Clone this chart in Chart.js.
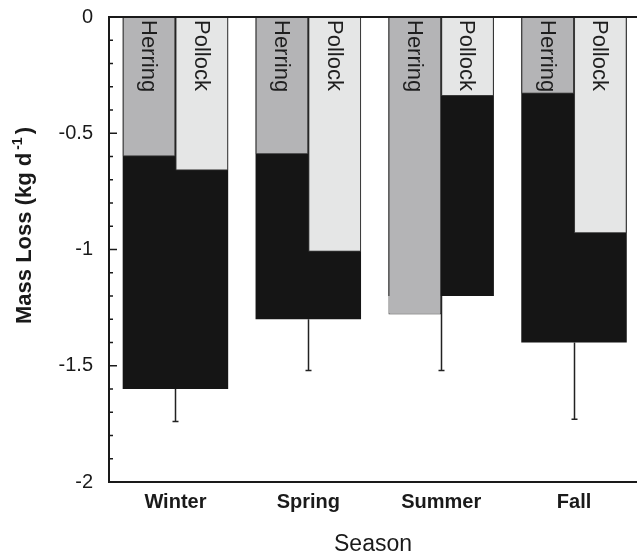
<!DOCTYPE html>
<html>
<head>
<meta charset="utf-8">
<script src="https://cdn.jsdelivr.net/npm/chart.js@4/dist/chart.umd.min.js"></script>
<style>
  html, body { margin: 0; padding: 0; background: #fff; }
  #wrap { width: 637px; height: 553px; }
</style>
</head>
<body>
<div id="wrap"><canvas id="massChart" width="637" height="553"></canvas></div>
<script>
const seasons = ['Winter', 'Spring', 'Summer', 'Fall'];
const herring = [-0.6, -0.59, -1.28, -0.33];
const pollock = [-0.66, -1.01, -0.34, -0.93];
const total = [-1.6, -1.3, -1.2, -1.4];
const totalErr = [0.14, 0.22, 0.32, 0.33];
const yTicks = [0, -0.5, -1, -1.5, -2];

const FONT = '"Liberation Sans", Arial, Helvetica, sans-serif';
const INK = '#1a1a1a';
Chart.defaults.font.family = FONT;
Chart.defaults.color = INK;

const toPoints = arr => arr.map((v, i) => ({ x: i, y: v }));

// error bars, bar names, axis frame, minor ticks and axis titles
const framePlugin = {
  id: 'frame',
  afterDatasetsDraw(chart) {
    const { ctx, chartArea, scales: { x, y } } = chart;
    ctx.save();
    ctx.strokeStyle = '#222';
    ctx.lineWidth = 1.5;
    total.forEach((t, i) => {
      const px = Math.round(x.getPixelForValue(i)) + 0.5;
      const y0 = y.getPixelForValue(t);
      const y1 = y.getPixelForValue(t - totalErr[i]);
      ctx.beginPath();
      ctx.moveTo(px, y0);
      ctx.lineTo(px, y1);
      ctx.moveTo(px - 3, y1);
      ctx.lineTo(px + 3, y1);
      ctx.stroke();
    });

    ctx.fillStyle = '#1e1e1e';
    ctx.font = '22px ' + FONT;
    ctx.textAlign = 'left';
    ctx.textBaseline = 'middle';
    [0, 1].forEach(di => {
      const name = chart.data.datasets[di].label;
      chart.getDatasetMeta(di).data.forEach(bar => {
        ctx.save();
        ctx.translate(bar.x - 1, chartArea.top + 3);
        ctx.rotate(Math.PI / 2);
        ctx.fillText(name, 0, 0);
        ctx.restore();
      });
    });
    ctx.restore();
  },
  afterDraw(chart) {
    const { ctx, chartArea: a, scales: { y } } = chart;
    ctx.save();
    ctx.strokeStyle = INK;
    ctx.lineWidth = 2;
    ctx.beginPath();
    ctx.moveTo(chart.width, a.top);
    ctx.lineTo(a.left, a.top);
    ctx.lineTo(a.left, a.bottom);
    ctx.lineTo(chart.width, a.bottom);
    ctx.stroke();

    ctx.lineWidth = 1.5;
    for (let k = 0; k <= 20; k++) {
      const py = y.getPixelForValue(-k / 10);
      const len = k % 5 === 0 ? 8 : 4;
      ctx.beginPath();
      ctx.moveTo(a.left, py);
      ctx.lineTo(a.left + len, py);
      ctx.stroke();
    }

    // y title with superscript
    ctx.fillStyle = INK;
    ctx.textBaseline = 'alphabetic';
    ctx.textAlign = 'left';
    const main = 'Mass Loss (kg d', sup = '-1', close = ')';
    ctx.font = 'bold 22px ' + FONT;
    const w1 = ctx.measureText(main).width, w3 = ctx.measureText(close).width;
    ctx.font = 'bold 14px ' + FONT;
    const w2 = ctx.measureText(sup).width;
    const tw = w1 + 3 + w2 + 3 + w3;
    ctx.translate(31, (a.top + a.bottom) / 2 - 24);
    ctx.rotate(-Math.PI / 2);
    let cx = -tw / 2;
    ctx.font = 'bold 22px ' + FONT;
    ctx.fillText(main, cx, 0);
    cx += w1 + 3;
    ctx.font = 'bold 14px ' + FONT;
    ctx.fillText(sup, cx, -9);
    cx += w2 + 3;
    ctx.font = 'bold 22px ' + FONT;
    ctx.fillText(close, cx, 0);
    ctx.setTransform(1, 0, 0, 1, 0, 0);

    ctx.font = '23px ' + FONT;
    ctx.textAlign = 'center';
    ctx.fillText('Season', (a.left + a.right) / 2, 551);
    ctx.restore();
  }
};

const ctx = document.getElementById('massChart').getContext('2d');
const massChart = new Chart(ctx, {
  type: 'bar',
  data: {
    datasets: [
      {
        label: 'Herring',
        data: toPoints(herring),
        backgroundColor: '#b4b4b6',
        borderColor: '#3a3a3a',
        borderWidth: 1,
        categoryPercentage: 0.794,
        barPercentage: 1,
        order: 1
      },
      {
        label: 'Pollock',
        data: toPoints(pollock),
        backgroundColor: '#e5e6e6',
        borderColor: '#3a3a3a',
        borderWidth: 1,
        categoryPercentage: 0.794,
        barPercentage: 1,
        order: 1
      },
      {
        label: 'Total',
        data: toPoints(total),
        backgroundColor: '#151515',
        borderWidth: 0,
        grouped: false,
        categoryPercentage: 0.794,
        barPercentage: 1,
        order: 2
      }
    ]
  },
  options: {
    responsive: false,
    animation: false,
    layout: { padding: { top: 17, right: 0, bottom: 0, left: 0 } },
    plugins: { legend: { display: false }, tooltip: { enabled: false } },
    scales: {
      x: {
        type: 'linear',
        offset: false,
        min: -0.5,
        max: 3.474,
        afterBuildTicks: s => { s.ticks = seasons.map((_, i) => ({ value: i })); },
        afterFit: s => { s.height = 71; },
        grid: { display: false, drawTicks: false, offset: false },
        border: { display: false },
        ticks: {
          callback: v => seasons[v],
          font: { size: 20, weight: 'bold' },
          color: INK,
          padding: 8,
          maxRotation: 0,
          autoSkip: false
        }
      },
      y: {
        min: -2,
        max: 0,
        afterBuildTicks: s => { s.ticks = yTicks.map(v => ({ value: v })); },
        afterFit: s => { s.width = 109; s.paddingTop = 0; s.paddingBottom = 0; },
        grid: { display: false, drawTicks: false },
        border: { display: false },
        ticks: {
          callback: v => String(v),
          font: { size: 20 },
          color: INK,
          padding: 16
        }
      }
    }
  },
  plugins: [framePlugin]
});
</script>
</body>
</html>
